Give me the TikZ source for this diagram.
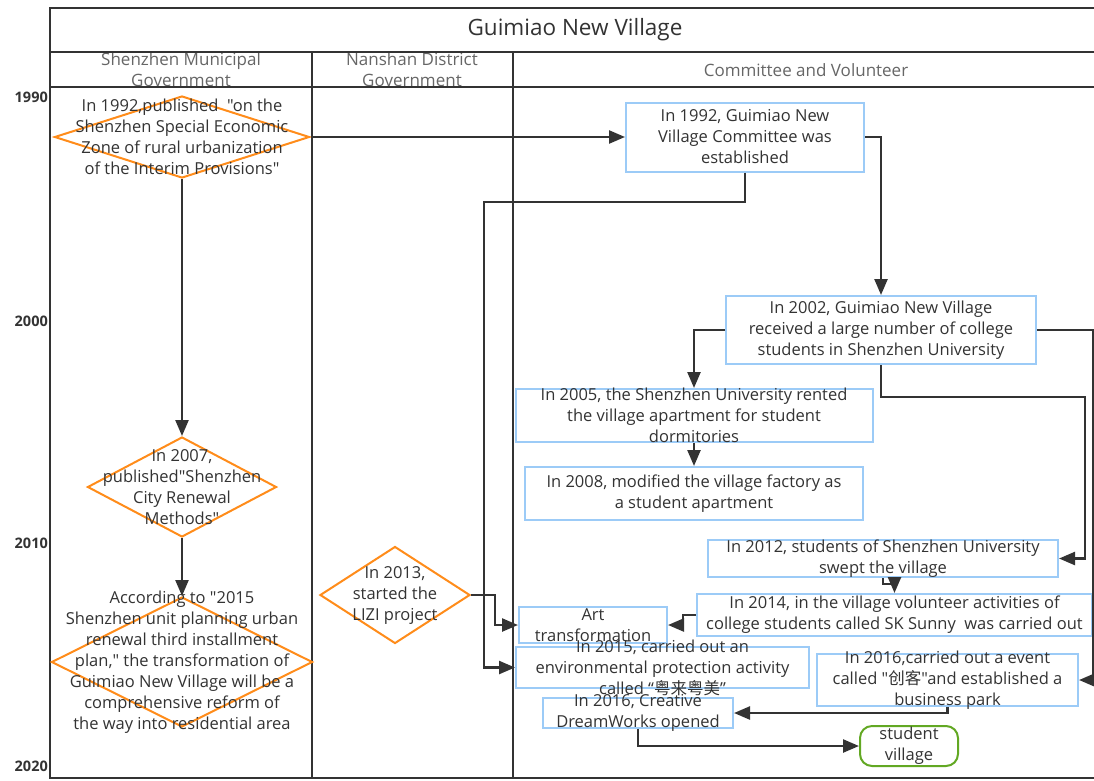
\documentclass[tikz,border=0pt]{standalone}
\usepackage{fontspec}
\setmainfont{Open Sans}
\newfontfamily\opensans{Open Sans}
\newfontfamily\cjk{Noto Sans CJK SC}
\usetikzlibrary{arrows.meta,calc,shapes.geometric}
\definecolor{ink}{HTML}{333333}
\definecolor{boxblue}{HTML}{9CCBF7}
\definecolor{dorange}{HTML}{FF8C1A}
\definecolor{vgreen}{HTML}{62A823}
\tikzset{
  frame/.style={draw=ink,line width=2.4pt},
  vbox/.style={draw=boxblue,line width=2pt,inner sep=0pt},
  dbox/.style={diamond,draw=dorange,line width=2pt,inner sep=0pt},
  gbox/.style={draw=vgreen,line width=2pt,rounded corners=12pt,inner sep=0pt},
  txt/.style={align=center,text=ink,inner sep=0pt,font=\opensans\fontsize{16.5}{21}\selectfont},
  head/.style={align=center,text=ink!75,inner sep=0pt,font=\opensans\fontsize{17}{21}\selectfont},
  year/.style={anchor=east,text=ink,inner sep=0pt,font=\opensans\fontsize{14.5}{16}\selectfont\bfseries},
  link/.style={->,draw=ink,line width=2.4pt}
}

\begin{document}
\begin{tikzpicture}[x=1pt,y=-1pt,>={Triangle[length=16pt,width=13pt]}]
      \useasboundingbox[fill=white] (0,0) rectangle (1094,780);

      % swimlanes
      \node[txt,font=\opensans\fontsize{22.5}{26}\selectfont] (title) at (575,30) {Guimiao New Village};
      \node[head] (laneA) at (181,70) {Shenzhen Municipal\\Government};
      \node[head] (laneB) at (412,70) {Nanshan District\\Government};
      \node[head] (laneC) at (806,70) {Committee and Volunteer};
      \draw[frame] (1094,8) -- (50,8) -- (50,778) -- (1094,778);
      \draw[frame] (50,52) -- (1094,52);
      \draw[frame] (50,87) -- (1094,87);
      \draw[frame] (312,52) -- (312,778);
      \draw[frame] (513,52) -- (513,778);

      % time axis
      \node[year] (y1990) at (48,97) {1990};
      \node[year] (y2000) at (48,321) {2000};
      \node[year] (y2010) at (48,543) {2010};
      \node[year] (y2020) at (48,766) {2020};

      % municipal policies
      \node[dbox,minimum width=255,minimum height=82] (pub1992) at (182,137) {};
      \node[txt] (pub1992T) at (pub1992) {In 1992,published~~"on the\\Shenzhen Special Economic\\Zone of rural urbanization\\of the Interim Provisions"};
      \node[dbox,minimum width=189,minimum height=100] (pub2007) at (182,487) {};
      \node[txt] (pub2007T) at (pub2007) {In 2007,\\published"Shenzhen\\City Renewal\\Methods"};
      \node[dbox,minimum width=261,minimum height=130] (plan2015) at (182,662) {};
      \node[txt] (plan2015T) at (plan2015) {According to "2015\\Shenzhen unit planning urban\\renewal third installment\\plan," the transformation of\\Guimiao New Village will be a\\comprehensive reform of\\the way into residential area};

      % district project
      \node[dbox,minimum width=150,minimum height=97] (lizi) at (395,595) {};
      \node[txt] (liziT) at (lizi) {In 2013,\\started the\\LIZI project};

      % committee and volunteers
      \node[vbox,minimum width=238,minimum height=69] (comm) at (745,137) {};
      \node[txt] (commT) at (comm) {In 1992, Guimiao New\\Village Committee was\\established};
      \node[vbox,minimum width=310,minimum height=68] (rec2002) at (881,330) {};
      \node[txt] (rec2002T) at (rec2002) {In 2002, Guimiao New Village\\received a large number of college\\students in Shenzhen University};
      \node[vbox,minimum width=357,minimum height=53] (rent2005) at (694,415.5) {};
      \node[txt] (rent2005T) at (rent2005) {In 2005, the Shenzhen University rented\\the village apartment for student\\dormitories};
      \node[vbox,minimum width=338,minimum height=53] (fac2008) at (694,493.5) {};
      \node[txt] (fac2008T) at (fac2008) {In 2008, modified the village factory as\\a student apartment};
      \node[vbox,minimum width=350,minimum height=37] (swept2012) at (883,558.5) {};
      \node[txt] (swept2012T) at (swept2012) {In 2012, students of Shenzhen University\\swept the village};
      \node[vbox,minimum width=395,minimum height=42] (sk2014) at (894.5,615) {};
      \node[txt] (sk2014T) at (sk2014) {In 2014, in the village volunteer activities of\\college students called SK Sunny~~was carried out};
      \node[vbox,minimum width=148,minimum height=36] (art) at (593,625) {};
      \node[txt] (artT) at (art) {Art\\transformation};
      \node[vbox,minimum width=293,minimum height=41] (env2015) at (662.5,667.5) {};
      \node[txt] (env2015T) at (env2015) {In 2015, carried out an\\environmental protection activity\\called~“{\cjk 粤来粤美}”};
      \node[vbox,minimum width=261,minimum height=52] (park2016) at (947.5,680) {};
      \node[txt] (park2016T) at (park2016) {In 2016,carried out a event\\called "{\cjk 创客}"and established a\\business park};
      \node[vbox,minimum width=190,minimum height=30] (dream2016) at (638,713) {};
      \node[txt] (dream2016T) at (dream2016) {In 2016, Creative\\DreamWorks opened};
      \node[gbox,minimum width=98,minimum height=40] (village) at (909,746) {};
      \node[txt] (villageT) at (village) {student\\village};

      \coordinate (bendA) at (484,202);
      \coordinate (bendB) at (1085,397);
      \coordinate (bendC) at (1093,330);

      \draw[link] (pub1992.east) -- (comm.west);
      \draw[link] (pub1992.south) -- (pub2007.north);
      \draw[link] (pub2007.south) -- (plan2015.north);
      \draw[link] (comm.south) |- (bendA) |- (env2015.west);
      \draw[link] (comm.east) -| (rec2002.north);
      \draw[link] (rec2002.west) -| (rent2005.north);
      \draw[link] (rec2002.south) |- (bendB) |- (swept2012.east);
      \draw[link] (rec2002.east) -- (bendC) |- (park2016.east);
      \draw[link] (rent2005.south) -- (fac2008.north);
      \draw[link] (swept2012.south) -- ++(0,6) -| (sk2014.north);
      \draw[link] (sk2014.west) -- ++(-13,0) |- (art.east);
      \draw[link] (lizi.east) -- ++(24,0) |- (art.west);
      \draw[link] (park2016.south) |- (dream2016.east);
      \draw[link] (dream2016.south) |- (village.west);
    \end{tikzpicture}
\end{document}
